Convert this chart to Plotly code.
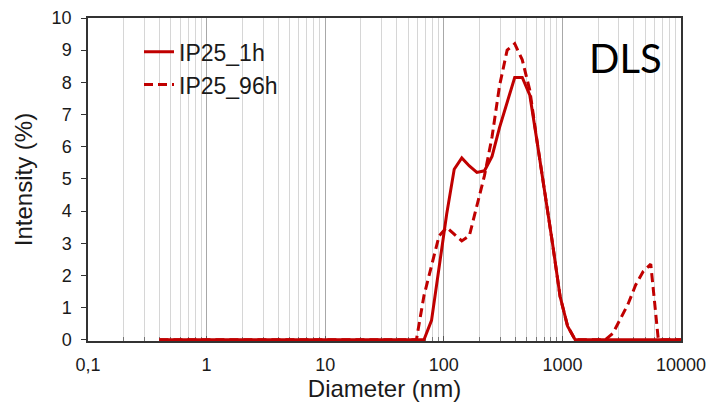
import plotly.graph_objects as go

# Malvern size bins (nm)
diameter = [0.4000, 0.4632, 0.5365, 0.6213, 0.7195, 0.8332, 0.9649, 1.117, 1.294, 1.499,
            1.736, 2.010, 2.328, 2.696, 3.122, 3.615, 4.187, 4.849, 5.615, 6.503,
            7.531, 8.721, 10.10, 11.70, 13.54, 15.69, 18.17, 21.04, 24.36, 28.21,
            32.67, 37.84, 43.82, 50.75, 58.77, 68.06, 78.82, 91.28, 105.7, 122.4,
            141.8, 164.2, 190.1, 220.2, 255.0, 295.3, 342.0, 396.1, 458.7, 531.2,
            615.1, 712.4, 825.0, 955.4, 1106, 1281, 1484, 1718, 1990, 2305,
            2669, 3091, 3580, 4145, 4801, 5560, 6439, 7456, 8635, 10000]

zeros_low = [0.0] * 35  # 0.4 .. 58.77

ip25_1h = zeros_low + [0.0, 0.6, 2.3, 3.9, 5.3, 5.65, 5.4, 5.2, 5.25, 5.7,
                       6.6, 7.4, 8.15, 8.15, 7.6, 6.1, 4.6, 3.0, 1.35, 0.42,
                       0.0, 0.0, 0.0, 0.0, 0.0, 0.0, 0.0, 0.0, 0.0, 0.0,
                       0.0, 0.0, 0.0, 0.0, 0.0]

ip25_96h = zeros_low + [1.37, 2.3, 3.23, 3.49, 3.28, 3.07, 3.23, 4.16, 5.1, 6.3,
                        7.9, 9.0, 9.2, 8.7, 7.75, 6.1, 4.6, 3.0, 1.35, 0.42,
                        0.0, 0.0, 0.0, 0.0, 0.0, 0.2, 0.65, 1.11, 1.7, 2.12,
                        2.35, 0.0, 0.0, 0.0, 0.0]

x_tickvals = [0.1, 1, 10, 100, 1000, 10000]
x_ticktext = ["0,1", "1", "10", "100", "1000", "10000"]
minor_vals = [m * 10.0 ** e for e in range(-1, 4) for m in range(2, 10)]
y_tickvals = list(range(0, 11))

RED = "#C00000"
FONT = "Liberation Sans, Arial, sans-serif"

fig = go.Figure()
fig.add_trace(go.Scatter(x=diameter, y=ip25_1h, mode="lines", name="IP25_1h",
                         line=dict(color=RED, width=3)))
fig.add_trace(go.Scatter(x=diameter, y=ip25_96h, mode="lines", name="IP25_96h",
                         line=dict(color=RED, width=3, dash="9px,5px")))

fig.update_layout(
    width=708, height=408,
    margin=dict(l=88, r=27, t=18, b=67, autoexpand=False),
    paper_bgcolor="white", plot_bgcolor="white",
    font=dict(family=FONT, color="#1a1a1a", size=18),
    showlegend=True,
    legend=dict(x=0.086, y=0.962, xanchor="left", yanchor="top",
                bgcolor="rgba(0,0,0,0)", font=dict(size=23, family=FONT, color="#1a1a1a"),
                tracegroupgap=0, itemwidth=30),
    xaxis=dict(type="log", range=[-1, 4], automargin=False,
               tickvals=x_tickvals, ticktext=x_ticktext,
               ticks="inside", ticklen=5, tickcolor="#555",
               showgrid=True, gridcolor="#a8a8a8", gridwidth=1,
               minor=dict(tickvals=minor_vals, ticks="inside", ticklen=4, tickcolor="#777",
                          showgrid=True, gridcolor="#d6d6d6", gridwidth=1),
               showline=True, linecolor="#333", linewidth=1.5, mirror=True,
               layer="below traces",
               tickfont=dict(size=18), ticklabelstandoff=7,
               title=dict(text="Diameter (nm)", font=dict(size=24), standoff=2),
               zeroline=False),
    yaxis=dict(range=[-0.04, 10], tickvals=y_tickvals, automargin=False,
               ticks="outside", ticklen=5, tickcolor="#333",
               showgrid=False, zeroline=False,
               showline=True, linecolor="#333", linewidth=1.5, mirror=True,
               tickfont=dict(size=18), ticklabelstandoff=6,
               title=dict(text="Intensity (%)", font=dict(size=24), standoff=12)),
    annotations=[dict(text="DLS", xref="paper", yref="paper", x=0.907, y=0.875,
                      xanchor="center", yanchor="middle", showarrow=False,
                      font=dict(family="Lato, Carlito, sans-serif", size=40, color="black"))],
)

fig.write_html("out.html", config={"displayModeBar": False},
               post_script="document.body.style.margin='0px';document.body.style.overflow='hidden';")
